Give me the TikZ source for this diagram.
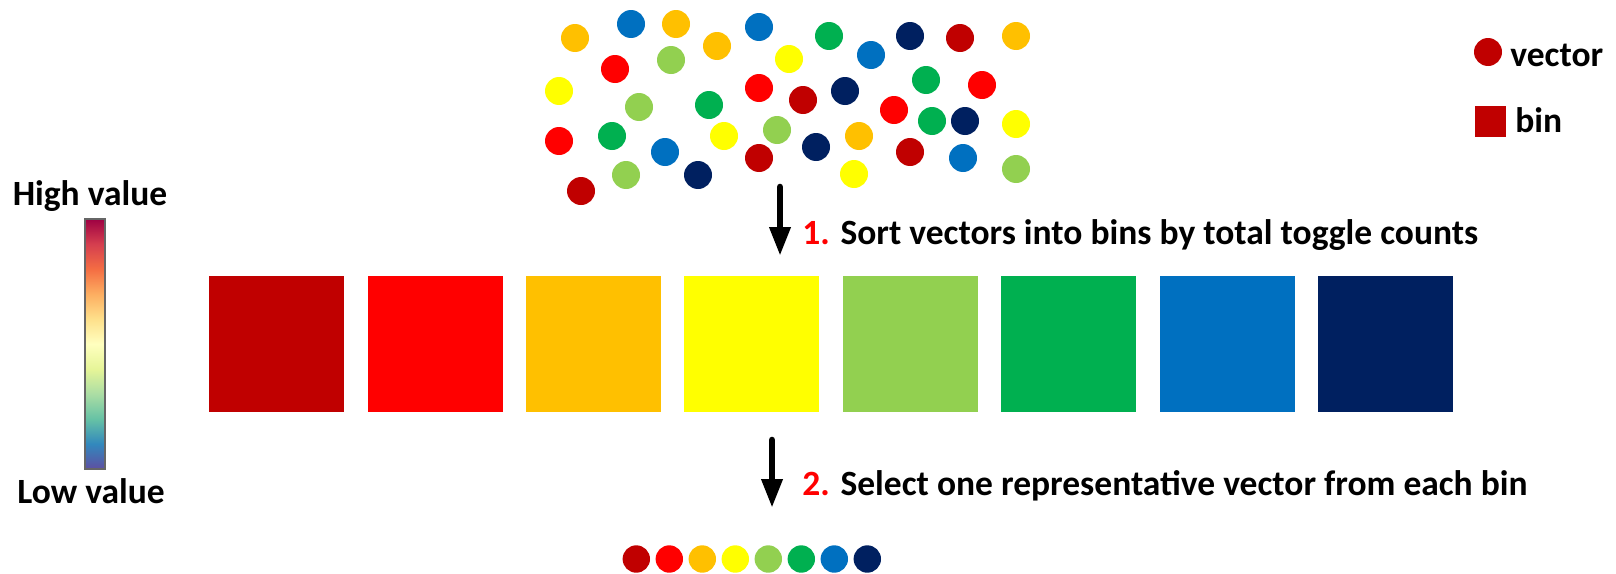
\documentclass[tikz,border=0pt]{standalone}
\usepackage{fontspec}
\setmainfont{Carlito}
\usetikzlibrary{arrows.meta}

\definecolor{cDarkRed}{HTML}{C00000}
\definecolor{cRed}{HTML}{FF0000}
\definecolor{cOrange}{HTML}{FFC000}
\definecolor{cYellow}{HTML}{FFFF00}
\definecolor{cLime}{HTML}{92D050}
\definecolor{cGreen}{HTML}{00B050}
\definecolor{cBlue}{HTML}{0070C0}
\definecolor{cNavy}{HTML}{002060}

% spectral colour map for the value bar
\definecolor{s0}{HTML}{5E4FA2}
\definecolor{s1}{HTML}{3288BD}
\definecolor{s2}{HTML}{66C2A5}
\definecolor{s3}{HTML}{ABDDA4}
\definecolor{s4}{HTML}{E6F598}
\definecolor{s5}{HTML}{FFFFBF}
\definecolor{s6}{HTML}{FEE08B}
\definecolor{s7}{HTML}{FDAE61}
\definecolor{s8}{HTML}{F46D43}
\definecolor{s9}{HTML}{D53E4F}
\definecolor{s10}{HTML}{9E0142}
\pgfdeclareverticalshading{spectral}{100bp}{color(0bp)=(s0); color(25bp)=(s0);
  color(30bp)=(s1); color(35bp)=(s2); color(40bp)=(s3); color(45bp)=(s4);
  color(50bp)=(s5); color(55bp)=(s6); color(60bp)=(s7); color(65bp)=(s8);
  color(70bp)=(s9); color(75bp)=(s10); color(100bp)=(s10)}

\begin{document}
\begin{tikzpicture}[
  x=0.5pt, y=-0.5pt,
  every node/.style = {font=\fontsize{17.75}{21}\selectfont\bfseries, inner sep=0pt},
  binbox/.style     = {rectangle, minimum width=67.5pt, minimum height=68pt, inner sep=0pt},
  arr/.style        = {-{Triangle[length=14.5pt,width=10pt]}, line width=3.3pt, line cap=round},
]
\useasboundingbox (0,0) rectangle (1616,573);

% scattered vectors
\foreach \x/\y/\c in {575/38/cOrange, 631/24/cBlue, 676/24/cOrange, 717/46/cOrange,
    759/27/cBlue, 829/36/cGreen, 871/55/cBlue, 910/36/cNavy, 960/38/cDarkRed,
    1016/36/cOrange, 615/69/cRed, 671/60/cLime, 789/59/cYellow, 559/91/cYellow,
    639/107/cLime, 709/105/cGreen, 759/88/cRed, 803/100/cDarkRed, 845/91/cNavy,
    926/80/cGreen, 982/85/cRed, 894/110/cRed, 932/121/cGreen, 965/121/cNavy,
    1016/124/cYellow, 559/141/cRed, 612/136/cGreen, 665/152/cBlue, 724/136/cYellow,
    777/130/cLime, 816/147/cNavy, 859/136/cOrange, 910/152/cDarkRed, 963/158/cBlue,
    1016/169/cLime, 626/175/cLime, 698/175/cNavy, 759/158/cDarkRed,
    854/174/cYellow, 581/191/cDarkRed}
  \fill[\c] (\x,\y) circle[radius=14];

% legend
\fill[cDarkRed] (1488,52) circle[radius=14];
\node[anchor=base west] (lvec) at (1510,66) {vector};
\fill[cDarkRed] (1475,106) rectangle (1506,137);
\node[anchor=base west] (lbin) at (1515,132) {bin};

% value bar
\shade[shading=spectral] (85,219) rectangle (105,469);
\draw[black!60, line width=0.7pt] (85,219) rectangle (105,469);
\node[anchor=base] (hi) at (90,205) {High value};
\node[anchor=base] (lo) at (91,503) {Low value};

% bins
\foreach \c [count=\i from 0] in {cDarkRed,cRed,cOrange,cYellow,cLime,cGreen,cBlue,cNavy}
  \node[binbox, fill=\c] (bin\i) at ({276.7+158.4*\i},344) {};

% step 1
\coordinate (s1a) at (780,187);
\coordinate (s1b) at (780,256);
\draw[arr] (s1a) -- (s1b);
\node[anchor=base west] (step1) at (802,244) {\textcolor{red}{1.} Sort vectors into bins by total toggle counts};

% step 2
\coordinate (s2a) at (772,440);
\coordinate (s2b) at (772,508);
\draw[arr] (s2a) -- (s2b);
\node[anchor=base west] (step2) at (802,495) {\textcolor{red}{2.} Select one representative vector from each bin};

% representatives
\foreach \c [count=\i from 0] in {cDarkRed,cRed,cOrange,cYellow,cLime,cGreen,cBlue,cNavy}
  \fill[\c] ({636.3+33*\i},559) circle[radius=13.7];
\end{tikzpicture}
\end{document}
